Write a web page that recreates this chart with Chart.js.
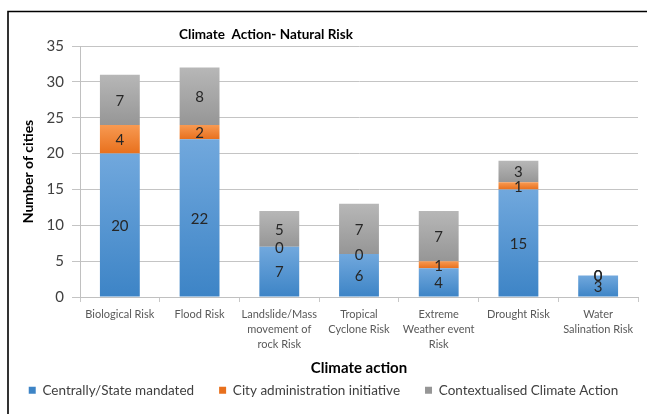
<!DOCTYPE html>
<html>
<head>
<meta charset="utf-8">
<title>Climate Action- Natural Risk</title>
<script src="https://cdn.jsdelivr.net/npm/chart.js@4/dist/chart.umd.min.js"></script>
<style>
  html, body { margin: 0; padding: 0; background: #ffffff; }
  canvas { display: block; }
</style>
</head>
<body>
<canvas id="chart" width="647" height="414"></canvas>
<script>
// Risk categories (multi-line labels as shown under the axis)
const categories = [
  'Biological Risk',
  'Flood Risk',
  ['Landslide/Mass', 'movement of', 'rock Risk'],
  ['Tropical', 'Cyclone Risk'],
  ['Extreme', 'Weather event', 'Risk'],
  'Drought Risk',
  ['Water', 'Salination Risk']
];

// Number of cities per type of climate action
const centrallyMandated = [20, 22, 7, 6, 4, 15, 3];
const cityInitiative    = [4, 2, 0, 0, 1, 1, 0];
const contextualised    = [7, 8, 5, 7, 7, 3, 0];

const yTicks = [0, 5, 10, 15, 20, 25, 30, 35];

const FONT = 'Lato, "Liberation Sans", sans-serif';

const seriesList = [centrallyMandated, cityInitiative, contextualised];

// vertical gradient for each stacked segment, lighter at its top
function segmentGradient(top, bottom) {
  return function (ctx) {
    const chart = ctx.chart;
    const y = chart.scales && chart.scales.y;
    if (ctx.type !== 'data' || !y || y.top === undefined) return bottom;
    const di = ctx.datasetIndex, i = ctx.dataIndex;
    let start = 0;
    for (let k = 0; k < di; k++) start += seriesList[k][i];
    const v = seriesList[di][i];
    const py0 = y.getPixelForValue(start);
    const py1 = y.getPixelForValue(start + v);
    if (!isFinite(py0) || !isFinite(py1) || Math.abs(py0 - py1) < 0.5) return bottom;
    const g = chart.ctx.createLinearGradient(0, py1, 0, py0);
    g.addColorStop(0, top);
    g.addColorStop(1, bottom);
    return g;
  };
}

// outer frame line (top and left)
const framePlugin = {
  id: 'frame',
  beforeDraw(chart) {
    const c = chart.ctx;
    c.save();
    c.fillStyle = '#ffffff';
    c.fillRect(0, 0, chart.width, chart.height);
    c.strokeStyle = '#000000';
    c.lineWidth = 1.6;
    c.beginPath();
    c.moveTo(chart.width, 11.5);
    c.lineTo(8, 11.5);
    c.lineTo(8, chart.height);
    c.stroke();
    c.restore();
  }
};

// chart heading
const headingPlugin = {
  id: 'heading',
  afterDraw(chart) {
    const c = chart.ctx;
    c.save();
    c.font = 'bold 13.5px ' + FONT;
    c.fillStyle = '#000000';
    c.textAlign = 'center';
    c.textBaseline = 'middle';
    c.fillText('Climate  Action- Natural Risk', 266, 35);
    c.restore();
  }
};

// one legend row centred on the canvas, with wide gaps between entries
const LEGEND_SLACK = 80;
const legendSpacing = {
  id: 'legendSpacing',
  afterInit(chart) {
    const lg = chart.legend;
    if (!lg) return;
    const fit = lg.fit;
    lg.fit = function () {
      this.maxWidth = chart.width + 2 * LEGEND_SLACK;
      fit.call(this);
    };
  },
  afterLayout(chart) {
    const lg = chart.legend;
    if (!lg) return;
    lg.left = -LEGEND_SLACK;
    lg.right = chart.width + LEGEND_SLACK;
    lg.width = lg.right - lg.left;
  }
};

// value printed in the middle of each segment
const valueLabelPlugin = {
  id: 'valueLabels',
  afterDatasetsDraw(chart) {
    const c = chart.ctx;
    c.save();
    c.font = '15px ' + FONT;
    c.fillStyle = '#262626';
    c.textAlign = 'center';
    c.textBaseline = 'middle';
    chart.data.datasets.forEach((ds, di) => {
      const meta = chart.getDatasetMeta(di);
      meta.data.forEach((bar, i) => {
        const v = ds.data[i];
        const p = bar.getProps(['x', 'y', 'base'], true);
        c.fillText(String(v), p.x, (p.y + p.base) / 2 + 1);
      });
    });
    c.restore();
  }
};

const chart = new Chart(document.getElementById('chart'), {
  type: 'bar',
  data: {
    labels: categories,
    datasets: [
      {
        label: 'Centrally/State mandated',
        data: centrallyMandated,
        backgroundColor: segmentGradient('#71a8dd', '#3d84c6'),
        borderWidth: 0
      },
      {
        label: 'City administration initiative',
        data: cityInitiative,
        backgroundColor: segmentGradient('#f89a52', '#e8701d'),
        borderWidth: 0
      },
      {
        label: 'Contextualised Climate Action',
        data: contextualised,
        backgroundColor: segmentGradient('#b7b7b7', '#969696'),
        borderWidth: 0
      }
    ]
  },
  options: {
    responsive: false,
    animation: false,
    events: [],
    categoryPercentage: 0.5,
    barPercentage: 1.0,
    layout: { padding: { top: 46, right: 9, bottom: 7, left: 20 } },
    scales: {
      x: {
        stacked: true,
        afterFit(scale) { scale.height = 61.5; },
        grid: {
          offset: true,
          drawOnChartArea: false,
          drawTicks: true,
          tickLength: 5,
          color: '#c8c8c8'
        },
        border: { color: '#c0c0c0', width: 1 },
        ticks: {
          autoSkip: false,
          maxRotation: 0,
          minRotation: 0,
          padding: 5,
          color: '#595959',
          font: { family: FONT, size: 11, lineHeight: 1.35 }
        },
        title: {
          display: true,
          text: 'Climate action',
          color: '#000000',
          font: { family: FONT, size: 15, weight: 'bold' },
          padding: { top: 0, bottom: -18.5 }
        }
      },
      y: {
        stacked: true,
        min: 0,
        max: 35,
        afterBuildTicks(scale) {
          scale.ticks = yTicks.map(v => ({ value: v }));
        },
        afterFit(scale) { scale.width = 60; },
        grid: {
          color: '#c4c4c4',
          lineWidth: 1,
          drawTicks: true,
          tickLength: 8
        },
        border: { color: '#c0c0c0', width: 1 },
        ticks: {
          padding: 8,
          color: '#404040',
          font: { family: FONT, size: 15 }
        },
        title: {
          display: true,
          text: 'Number of cities',
          color: '#000000',
          font: { family: FONT, size: 14, weight: 'bold' },
          padding: { top: 0, bottom: 4 }
        }
      }
    },
    plugins: {
      legend: {
        position: 'bottom',
        labels: {
          boxWidth: 7,
          boxHeight: 7,
          padding: 25,
          color: '#404040',
          font: { family: FONT, size: 13.5 }
        }
      },
      title: { display: false },
      tooltip: { enabled: false }
    }
  },
  plugins: [framePlugin, headingPlugin, legendSpacing, valueLabelPlugin]
});
</script>
</body>
</html>
